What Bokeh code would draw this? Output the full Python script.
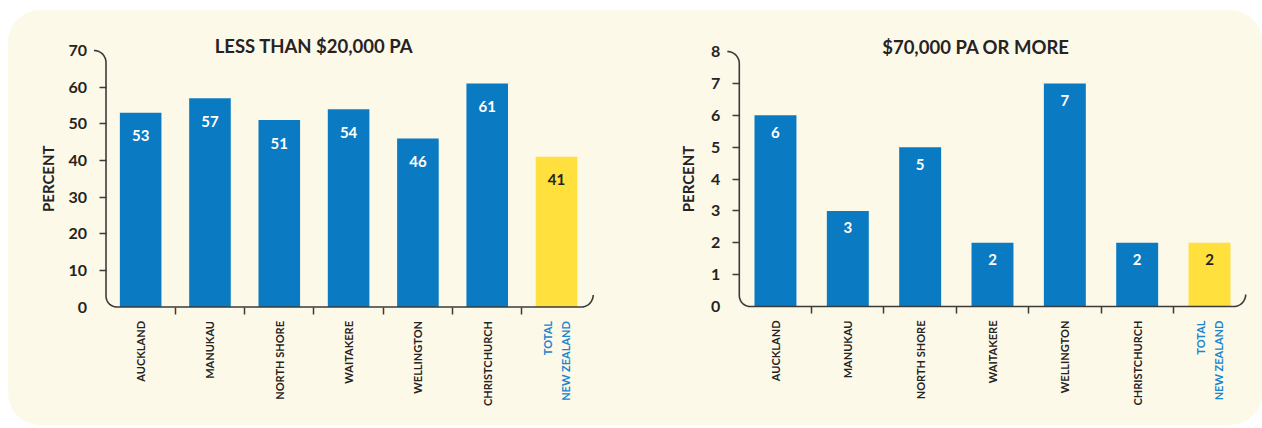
import numpy as np
from bokeh.plotting import figure
from bokeh.models import Range1d, FixedTicker, Label, ColumnDataSource
from bokeh.layouts import row
from bokeh.embed import file_html
from bokeh.resources import INLINE
from bokeh.core.properties import value

# ---- data ----
cities = ["AUCKLAND", "MANUKAU", "NORTH SHORE", "WAITAKERE", "WELLINGTON",
          "CHRISTCHURCH", "TOTAL\nNEW ZEALAND"]
low_income_pct = [53, 57, 51, 54, 46, 61, 41]      # less than $20,000 pa
high_income_pct = [6, 3, 5, 2, 7, 2, 2]           # $70,000 pa or more
left_title = "LESS THAN $20,000 PA"
right_title = "$70,000 PA OR MORE"
left_yticks = [0, 10, 20, 30, 40, 50, 60, 70]
right_yticks = [0, 1, 2, 3, 4, 5, 6, 7, 8]
y_label = "PERCENT"

BLUE = "#0a7bc2"
YELLOW = "#ffe03c"
DARK = "#262324"
LABEL_BLUE = "#1a86cf"
AXIS = "#3b3b3b"
FONT = "Lato"


def make_chart(vals, yticks, title, title_x, fig_w, fig_h,
               x0_px, xn_px, y0_px, ytop_px, bar_w, lab_off, ylab_off,
               end_px):
    n = len(cities)
    ymax = yticks[-1]
    ux = (xn_px - x0_px) / n           # pixels per category
    uy = (y0_px - ytop_px) / ymax      # pixels per y unit
    x_range = Range1d(-x0_px / ux, n + (fig_w - xn_px) / ux)
    y_range = Range1d(-(fig_h - y0_px) / uy, ymax + ytop_px / uy)

    centers = [i + 0.5 for i in range(n)]
    colors = [BLUE] * (n - 1) + [YELLOW]
    txtcol = ["white"] * (n - 1) + [DARK]
    src = ColumnDataSource(dict(x=centers, top=vals, color=colors,
                                tc=txtcol, lab=[str(v) for v in vals]))
    p = figure(width=fig_w, height=fig_h, output_backend="svg",
               toolbar_location=None, x_range=x_range, y_range=y_range,
               min_border=0)
    p.border_fill_color = None
    p.background_fill_color = None
    p.outline_line_color = None
    p.grid.visible = False

    p.vbar(x="x", top="top", bottom=0, width=bar_w, color="color",
           line_color=None, source=src)
    p.text(x="x", y="top", text="lab", text_color="tc", source=src,
           text_font=value(FONT), text_font_style="bold",
           text_font_size="15px", text_align="center",
           text_baseline="middle", y_offset=lab_off)

    # axis outline with rounded corners (decoration, pixel radii)
    def arc(cx, cy, r, a0, a1):
        t = np.radians(np.linspace(a0, a1, 12))
        return list(cx + r * np.cos(t) / ux), list(cy + r * np.sin(t) / uy)
    r1, r2, r3 = 12, 11, 12
    xe = n + end_px / ux
    ax1, ay1 = arc(-r1 / ux, ymax - r1 / uy, r1, 90, 0)
    ax2, ay2 = arc(r2 / ux, r2 / uy, r2, 180, 270)
    ax3, ay3 = arc(xe - r3 / ux, r3 / uy, r3, 270, 360)
    p.line(ax1 + ax2 + ax3, ay1 + ay2 + ay3, line_color=AXIS,
           line_width=1.6)

    # y axis: labels on all ticks, tick marks only on inner values
    ya = p.yaxis[0]
    ya.fixed_location = 0
    ya.bounds = (yticks[0], ymax)
    ya.ticker = FixedTicker(ticks=yticks, minor_ticks=yticks[1:-1])
    ya.axis_line_color = None
    ya.major_tick_line_color = None
    ya.major_tick_out = 7
    ya.major_tick_in = 0
    ya.minor_tick_line_color = AXIS
    ya.minor_tick_line_width = 1.5
    ya.minor_tick_out = 7
    ya.minor_tick_in = 0
    ya.major_label_standoff = 12
    ya.major_label_text_font = FONT
    ya.major_label_text_font_style = "bold"
    ya.major_label_text_font_size = "16px"
    ya.major_label_text_color = DARK

    p.add_layout(Label(x=0, y=(yticks[0] + ymax) / 2, text=y_label,
                       angle=np.pi / 2, text_align="center",
                       text_baseline="middle", x_offset=-ylab_off,
                       text_font=FONT, text_font_style="bold",
                       text_font_size="15px", text_color=DARK))

    # x axis: labels at centres, ticks between categories
    xa = p.xaxis[0]
    xa.fixed_location = 0
    xa.bounds = (0, n)
    xa.ticker = FixedTicker(ticks=centers, minor_ticks=list(range(1, n)))
    xa.axis_line_color = None
    xa.major_tick_line_color = None
    xa.major_tick_out = 0
    xa.major_tick_in = 0
    xa.minor_tick_line_color = AXIS
    xa.minor_tick_line_width = 1.5
    xa.minor_tick_out = 7
    xa.minor_tick_in = 0
    overrides = {c: name for c, name in zip(centers, cities)}
    overrides[centers[-1]] = " "
    xa.major_label_overrides = overrides
    xa.major_label_orientation = np.pi / 2
    xa.major_label_standoff = 7
    xa.major_label_text_font = FONT
    xa.major_label_text_font_style = "bold"
    xa.major_label_text_font_size = "11px"
    xa.major_label_text_color = DARK

    # last category label in blue, two lines
    p.add_layout(Label(x=centers[-1], y=0, text=cities[-1],
                       angle=np.pi / 2, text_align="right",
                       text_baseline="middle", y_offset=-14,
                       text_font=FONT, text_font_style="bold",
                       text_font_size="11px", text_color=LABEL_BLUE,
                       text_line_height=1.35))

    # chart title
    p.add_layout(Label(x=title_x, y=ymax, text=title,
                       text_align="center", text_baseline="middle",
                       y_offset=5, text_font=FONT, text_font_style="bold",
                       text_font_size="18.5px", text_color=DARK))
    return p


# figure boxes are relative to the panel (page origin 8,10 and 640,10)
p1 = make_chart(low_income_pct, left_yticks, left_title, 3.0,
                632, 415, 97.5, 582.7, 296.5, 40, 0.6, 23, 58, 2)
p2 = make_chart(high_income_pct, right_yticks, right_title, 3.27,
                622, 415, 98.8, 605.2, 296.0, 41, 0.58, 17, 51, 0)

layout = row(p1, p2, margin=(10, 0, 0, 8),
             styles={"background-color": "#fdf9e8", "border-radius": "32px"})

open("out.html", "w").write(file_html(layout, INLINE))
